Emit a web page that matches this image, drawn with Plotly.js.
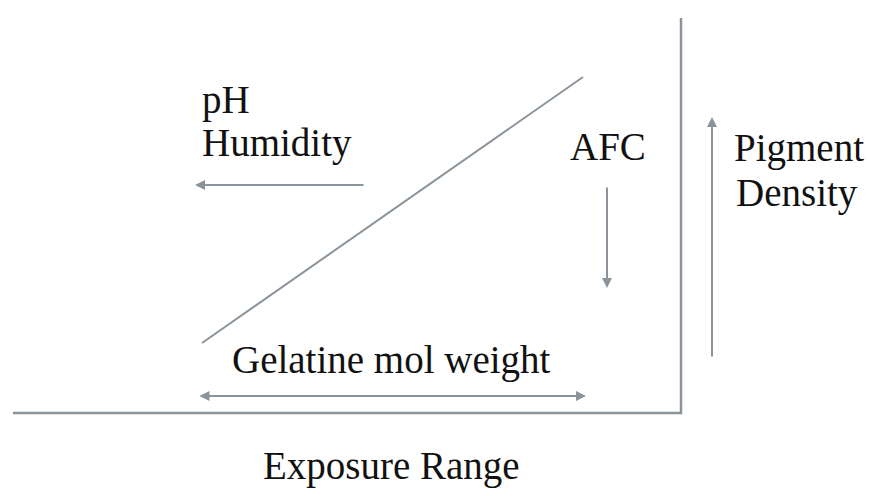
<!DOCTYPE html>
<html>
<head>
<meta charset="utf-8">
<script src="https://cdn.plot.ly/plotly-3.0.1.min.js"></script>
<style>html,body{margin:0;padding:0;background:#fff;}#chart{width:870px;height:496px;}</style>
</head>
<body>
<div id="chart"></div>
<script>
// Diagram coordinates (x to the right, y downward)
var frameX = [13, 681, 681];
var frameY = [413, 413, 18];
var diagX = [202, 583];
var diagY = [343, 77];

// Arrows: [tailX, tailY, headX, headY]
var arrowPH = [365, 185, 195, 185];
var arrowAFC = [607, 186, 607, 288];
var arrowPigment = [712, 358, 712, 117];
var arrowGelatine = [198, 396, 586, 396];

// Labels
var labelTexts = ["pH", "Humidity", "AFC", "Pigment", "Density", "Gelatine mol weight", "Exposure Range"];
var labelX = [200, 200, 608, 732, 734, 391, 391];
var labelY = [100, 143, 146, 148, 193, 360, 466];
var labelAnchor = ["left", "left", "center", "left", "left", "center", "center"];

var lineColor = "#8b939d";
var fontFam = "Liberation Serif, Times New Roman, serif";

var traces = [
  {x: frameX, y: frameY, mode: "lines", line: {color: lineColor, width: 2.5}, hoverinfo: "skip"},
  {x: diagX, y: diagY, mode: "lines", line: {color: lineColor, width: 2}, hoverinfo: "skip"}
];

function arrow(a, side) {
  return {
    x: a[2], y: a[3], ax: a[0], ay: a[1],
    xref: "x", yref: "y", axref: "x", ayref: "y",
    text: "", showarrow: true, arrowhead: 2, arrowsize: 1, arrowwidth: 2,
    arrowcolor: lineColor, arrowside: side || "end", standoff: 0, startstandoff: 0
  };
}

var annotations = [
  arrow(arrowPH), arrow(arrowAFC), arrow(arrowPigment), arrow(arrowGelatine, "end+start")
];
for (var i = 0; i < labelTexts.length; i++) {
  annotations.push({
    x: labelX[i], y: labelY[i], xref: "x", yref: "y",
    text: labelTexts[i], showarrow: false,
    xanchor: labelAnchor[i], yanchor: "middle",
    font: {family: fontFam, size: 39, color: "#111111"}
  });
}

var layout = {
  width: 870, height: 496,
  margin: {l: 0, r: 0, t: 0, b: 0},
  paper_bgcolor: "#ffffff", plot_bgcolor: "#ffffff",
  showlegend: false,
  xaxis: {range: [0, 870], visible: false, fixedrange: true},
  yaxis: {range: [496, 0], visible: false, fixedrange: true},
  annotations: annotations
};

Plotly.newPlot("chart", traces, layout, {displayModeBar: false, staticPlot: true});
</script>
</body>
</html>
